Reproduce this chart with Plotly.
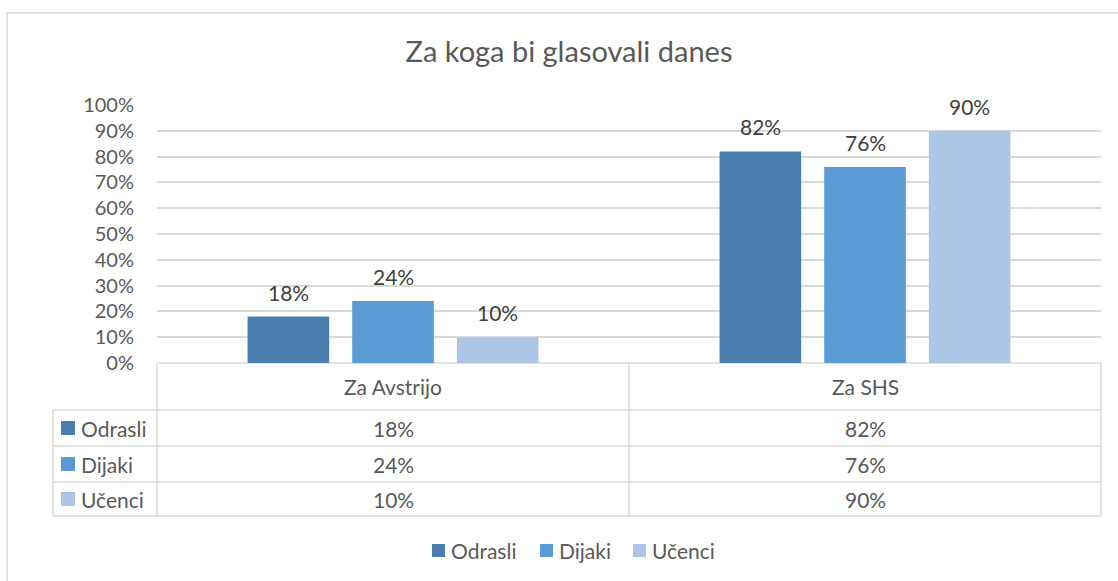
import plotly.graph_objects as go

categories = ["Za Avstrijo", "Za SHS"]
series_names = ["Odrasli", "Dijaki", "Učenci"]
odrasli = [18, 82]
dijaki = [24, 76]
ucenci = [10, 90]
values = [odrasli, dijaki, ucenci]
colors = ["#4a7eaf", "#5b9bd5", "#adc6e6"]
y_ticks = list(range(0, 101, 10))

W, H = 1118, 581
L, R, T, B = 157, 1101, 105, 363
FONT = "Lato, Carlito, 'Liberation Sans', sans-serif"
TXT = "#595959"
GRID = "#d9d9d9"
BARGAP = 0.335

def px(x):
    return (x - L) / (R - L)

def py(y):
    return (B - y) / (B - T)

fig = go.Figure()
for name, vals, col in zip(series_names, values, colors):
    fig.add_trace(go.Bar(
        name=name, x=categories, y=vals, marker=dict(color=col, line=dict(width=0)),
        showlegend=False, hoverinfo="x+y+name",
    ))

annotations = []
# data labels, positioned via the axes' own scales
n = len(series_names)
slot = (1 - BARGAP) / n
for si, vals in enumerate(values):
    for ci, v in enumerate(vals):
        annotations.append(dict(
            xref="x", yref="y", x=ci + (si - (n - 1) / 2) * slot, y=v,
            text=f"{v}%", showarrow=False, xanchor="center", yanchor="bottom",
            yshift=10, font=dict(size=21, color="#404040", family=FONT)))

shapes = []
def line(x0, y0, x1, y1, color=GRID, w=1.5):
    shapes.append(dict(type="line", xref="paper", yref="paper",
                       x0=px(x0), y0=py(y0), x1=px(x1), y1=py(y1),
                       line=dict(color=color, width=w), layer="below"))

# chart border (top/left visible)
line(7, 13, 1130, 13)
line(7, 13, 7, 600)

# data table
row_y = [363, 410, 446, 482, 516]
line(L, 363, R, 363)
for yy in row_y[1:]:
    line(53, yy, R, yy)
line(53, 410, 53, 516)
mid = (L + R) / 2
for xx in [L, mid, R]:
    line(xx, 363, xx, 516)

def text(x, y, s, size=21, anchor="center", color=TXT):
    annotations.append(dict(xref="paper", yref="paper", x=px(x), y=py(y), text=s,
                            showarrow=False, xanchor=anchor, yanchor="middle",
                            font=dict(size=size, color=color, family=FONT)))

def square(x0, yc, col, s=14):
    shapes.append(dict(type="rect", xref="paper", yref="paper",
                       x0=px(x0), x1=px(x0 + s), y0=py(yc - s / 2), y1=py(yc + s / 2),
                       fillcolor=col, line=dict(width=0)))

col_centers = [(L + mid) / 2, (mid + R) / 2]
for c, cx in zip(categories, col_centers):
    text(cx, 386, c)
for i, (name, vals, col) in enumerate(zip(series_names, values, colors)):
    yc = (row_y[i + 1] + row_y[i + 2]) / 2
    square(61, yc, col)
    text(79, yc, name, anchor="left")
    for v, cx in zip(vals, col_centers):
        text(cx, yc, f"{v}%")

# legend (drawn manually to match spacing)
legend_x = [432, 540, 633]
for name, col, lx in zip(series_names, colors, legend_x):
    square(lx, 550.5, col, 13)
    text(lx + 17, 550, name, anchor="left")

fig.update_layout(
    width=W, height=H,
    margin=dict(l=L, r=W - R, t=T, b=H - B, autoexpand=False),
    paper_bgcolor="white", plot_bgcolor="white",
    barmode="group", bargap=BARGAP, bargroupgap=0.22,
    title=dict(text="Za koga bi glasovali danes", x=569 / W, y=1 - 52 / H,
               xanchor="center", yanchor="middle",
               font=dict(size=29, color=TXT, family=FONT)),
    xaxis=dict(showticklabels=False, showgrid=False, zeroline=False,
               range=[-0.5, 1.5], showline=False),
    yaxis=dict(range=[0, 100], tickvals=y_ticks, ticktext=[f"{v}%" for v in y_ticks],
               showgrid=True, gridcolor=GRID, gridwidth=1.5, zeroline=False,
               showline=False, ticks="", ticklabelstandoff=22,
               tickfont=dict(size=20, color=TXT, family=FONT)),
    shapes=shapes, annotations=annotations,
    showlegend=False,
)
fig.write_html("out.html", config={"displayModeBar": False},
               post_script="document.body.style.margin='0';document.body.style.padding='0';")
